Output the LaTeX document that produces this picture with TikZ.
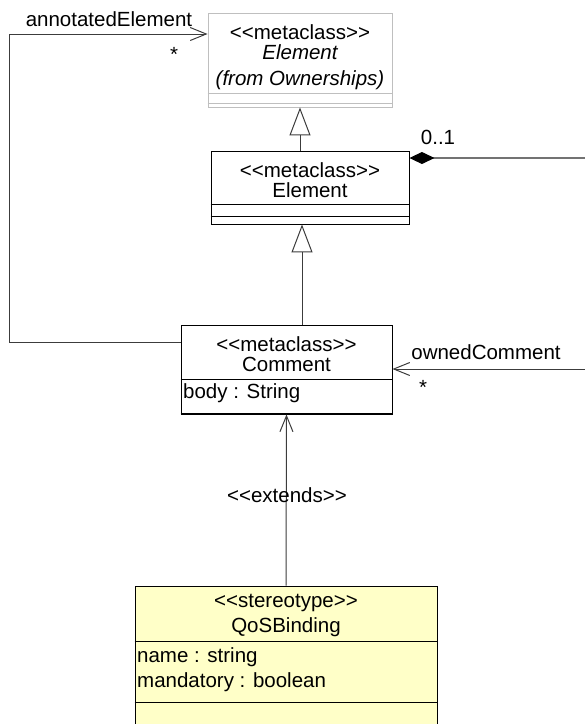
\documentclass[tikz,border=0pt]{standalone}
\usepackage{fontspec}
\setmainfont{Liberation Sans}
\usetikzlibrary{arrows.meta, calc}
\definecolor{stereoyellow}{RGB}{255,255,200}
\definecolor{linegray}{RGB}{60,60,60}
\tikzset{
  lbl/.style={font=\fontsize{20.5}{20}\selectfont, inner sep=0pt, align=center},
  attr/.style={lbl, anchor=west},
  classbox/.style={rectangle, draw=black, line width=0.9pt, fill=white, inner sep=0pt},
  importbox/.style={classbox, draw=black!25},
  stereobox/.style={classbox, fill=stereoyellow},
  sep/.style={draw=black, line width=0.9pt},
  importsep/.style={draw=black!25, line width=0.9pt},
  openarr/.style={draw=linegray, line width=1pt, -{Straight Barb[length=16pt, width=13pt]}},
  gentri/.style={draw=linegray, line width=1pt, -{Triangle[open, length=28pt, width=21pt, fill=white]}},
  compos/.style={draw=black!55, line width=1.1pt, {Diamond[length=25pt, width=12pt, fill=black, color=black]}-},
}
\newcommand{\stereo}[1]{<{}<#1>{}>}

\begin{document}
\begin{tikzpicture}[x=1pt, y=-1pt]
\useasboundingbox (0,0) rectangle (585,724);

\node[importbox, minimum width=184pt, minimum height=94pt] (elemOwn) at (300,60) {};
\node[lbl] (elemOwnSt) at (300,32) {\stereo{metaclass}};
\node[lbl] (elemOwnNm) at (300,52) {\itshape Element};
\node[lbl] (elemOwnFr) at (300,80) {\itshape (from Ownerships)};
\draw[importsep] (elemOwn.west |- 0,93) -- (elemOwn.east |- 0,93);
\draw[importsep] (elemOwn.west |- 0,103) -- (elemOwn.east |- 0,103);

\node[classbox, minimum width=198pt, minimum height=73pt] (elem) at (310,187.5) {};
\node[lbl] (elemSt) at (310,170) {\stereo{metaclass}};
\node[lbl] (elemNm) at (310,190) {Element};
\draw[sep] (elem.west |- 0,204) -- (elem.east |- 0,204);
\draw[sep] (elem.west |- 0,216) -- (elem.east |- 0,216);

\node[classbox, minimum width=211pt, minimum height=89pt] (comment) at (286.5,369.5) {};
\node[lbl] (commentSt) at (286.5,344) {\stereo{metaclass}};
\node[lbl] (commentNm) at (286.5,364) {Comment};
\draw[sep] (comment.west |- 0,379) -- (comment.east |- 0,379);
\draw[sep, line width=2pt] (comment.south west) -- (comment.south east);
\node[attr] (commentBody) at (183,393) {body : String};

\node[stereobox, minimum width=302pt, minimum height=142pt] (qos) at (286,657) {};
\node[lbl] (qosSt) at (286,603) {\stereo{stereotype}};
\node[lbl] (qosNm) at (286,627) {QoSBinding};
\draw[sep] (qos.west |- 0,641) -- (qos.east |- 0,641);
\draw[sep] (qos.west |- 0,702) -- (qos.east |- 0,702);
\node[attr] (qosName) at (137,657) {name : string};
\node[attr] (qosMand) at (137,682) {mandatory : boolean};

\coordinate (annBot) at (9,342);
\coordinate (annTop) at (9,34);
\coordinate (ownEnd) at (585,369);
\coordinate (compEnd) at (585,158);

\draw[gentri] (elem.north -| elemOwn.south) -- (elemOwn.south);
\draw[gentri] ($(comment.north -| elemOwn.south)+(2,0)$) -- ($(elem.south -| elemOwn.south)+(2,0)$);
\draw[openarr] (annBot -| comment.west) -- (annBot) -- (annTop) -- (annTop -| elemOwn.west);
\draw[openarr] (ownEnd) -- (ownEnd -| comment.east);
\draw[compos] (compEnd -| elem.east) -- (compEnd);
\draw[openarr] (qos.north) -- (comment.south);

\node[lbl] (annLbl) at (109,19) {annotatedElement};
\node[lbl] (annMult) at (174,54) {*};
\node[lbl] (compMult) at (438,137) {0..1};
\node[lbl] (ownLbl) at (486,352) {ownedComment};
\node[lbl] (ownMult) at (423,387) {*};
\node[lbl] (extLbl) at (287,495) {\stereo{extends}};

\end{tikzpicture}
\end{document}
